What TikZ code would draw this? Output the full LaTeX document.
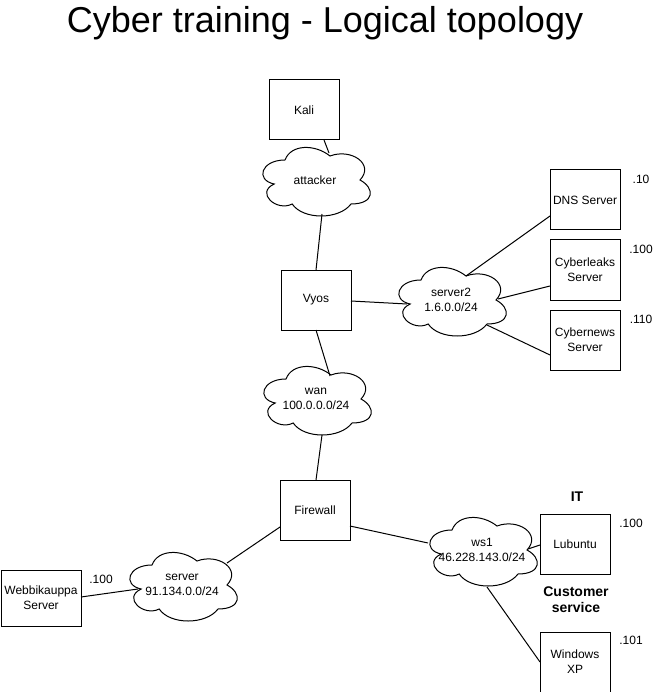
\documentclass[tikz,border=0pt]{standalone}
\usepackage{fontspec}
\setmainfont{Liberation Sans}
\usetikzlibrary{calc}
\begin{document}
\begin{tikzpicture}[x=1pt,y=-1pt,
  box/.style={draw,line width=1pt,minimum width=70pt,minimum height=60pt,inner sep=0pt,align=center,font=\fontsize{12}{15}\selectfont},
  ctext/.style={inner sep=0pt,align=center,font=\fontsize{12}{15}\selectfont},
  lbl/.style={inner sep=0pt,font=\fontsize{12}{15}\selectfont},
  blbl/.style={inner sep=0pt,align=center,font=\fontsize{14}{16}\selectfont\bfseries},
  link/.style={line width=1pt},
  netcloud/.pic={\draw[line width=1pt,fill=white] (-30,-20) .. controls (-54,-20) and (-60,0) .. (-40.8,4) .. controls (-60,12.8) and (-38.4,32) .. (-22.8,24) .. controls (-12,40) and (24,40) .. (36,24) .. controls (60,24) and (60,8) .. (45,0) .. controls (60,-16) and (36,-32) .. (15,-24) .. controls (0,-36) and (-24,-36) .. (-30,-20) -- cycle;}
]
\useasboundingbox (0,0) rectangle (661,692);

% title
\node[inner sep=0pt,anchor=base,font=\fontsize{36}{40}\selectfont] (title) at (325,33) {Cyber training - Logical topology};

% clouds
\pic at (315,180) {netcloud};
\node[ctext] (attacker) at (315,180) {attacker};
\pic at (451,300) {netcloud};
\node[ctext] (server2) at (451,300) {server2\\1.6.0.0/24};
\pic at (316,399) {netcloud};
\node[ctext] (wan) at (316,399) {wan\\100.0.0.0/24};
\pic at (182,585) {netcloud};
\node[ctext] (server) at (182,585) {server\\91.134.0.0/24};
\pic at (482,550) {netcloud};
\node[ctext] (ws1) at (482,550) {ws1\\46.228.143.0/24};

% boxes
\node[box] (kali) at (304,110) {Kali};
\node[box] (vyos) at (316,300) {Vyos};
\node[box] (firewall) at (315,510) {Firewall};
\node[box] (dns) at (585,200) {DNS Server};
\node[box] (leaks) at (585,270) {Cyberleaks\\Server};
\node[box] (news) at (585,340) {Cybernews\\Server};
\node[box] (lubuntu) at (575,544) {Lubuntu};
\node[box] (winxp) at (575,662) {Windows\\XP};
\node[box,minimum width=80pt,minimum height=56pt] (webbi) at (41,598) {Webbikauppa\\Server};

% labels
\node[lbl] (l10) at (641,179) {.10};
\node[lbl] (l100a) at (641,249) {.100};
\node[lbl] (l110) at (641,319) {.110};
\node[lbl] (l100b) at (631,523) {.100};
\node[lbl] (l101) at (631,640) {.101};
\node[lbl] (l100c) at (101,579) {.100};
\node[blbl] (it) at (577,497) {IT};
\node[blbl] (cs) at (576,600) {Customer\\service};

% links
\draw[link] ($(kali.center)+(20,30)$) -- ($(attacker.center)+(14,-27)$);
\draw[link] ($(attacker.center)+(7,34)$) -- ($(vyos.center)+(0,-30)$);
\draw[link] ($(vyos.center)+(35,1)$) -- ($(server2.center)+(-44,4)$);
\draw[link] ($(vyos.center)+(0,30)$) -- ($(wan.center)+(14,-23)$);
\draw[link] ($(wan.center)+(6,36)$) -- ($(firewall.center)+(1,-30)$);
\draw[link] ($(firewall.center)+(-35,17)$) -- ($(server.center)+(45,-22)$);
\draw[link] ($(webbi.center)+(40,-1)$) -- ($(server.center)+(-44,4)$);
\draw[link] ($(firewall.center)+(35,16)$) -- ($(ws1.center)+(-54,-7)$);
\draw[link] ($(ws1.center)+(46,-1)$) -- ($(lubuntu.center)+(-35,1)$);
\draw[link] ($(ws1.center)+(5,37)$) -- ($(winxp.center)+(-35,0)$);
\draw[link] ($(server2.center)+(15,-24)$) -- ($(dns.center)+(-35,16)$);
\draw[link] ($(server2.center)+(47,-1)$) -- ($(leaks.center)+(-35,16)$);
\draw[link] ($(server2.center)+(36,25)$) -- ($(news.center)+(-35,15)$);
\end{tikzpicture}
\end{document}
